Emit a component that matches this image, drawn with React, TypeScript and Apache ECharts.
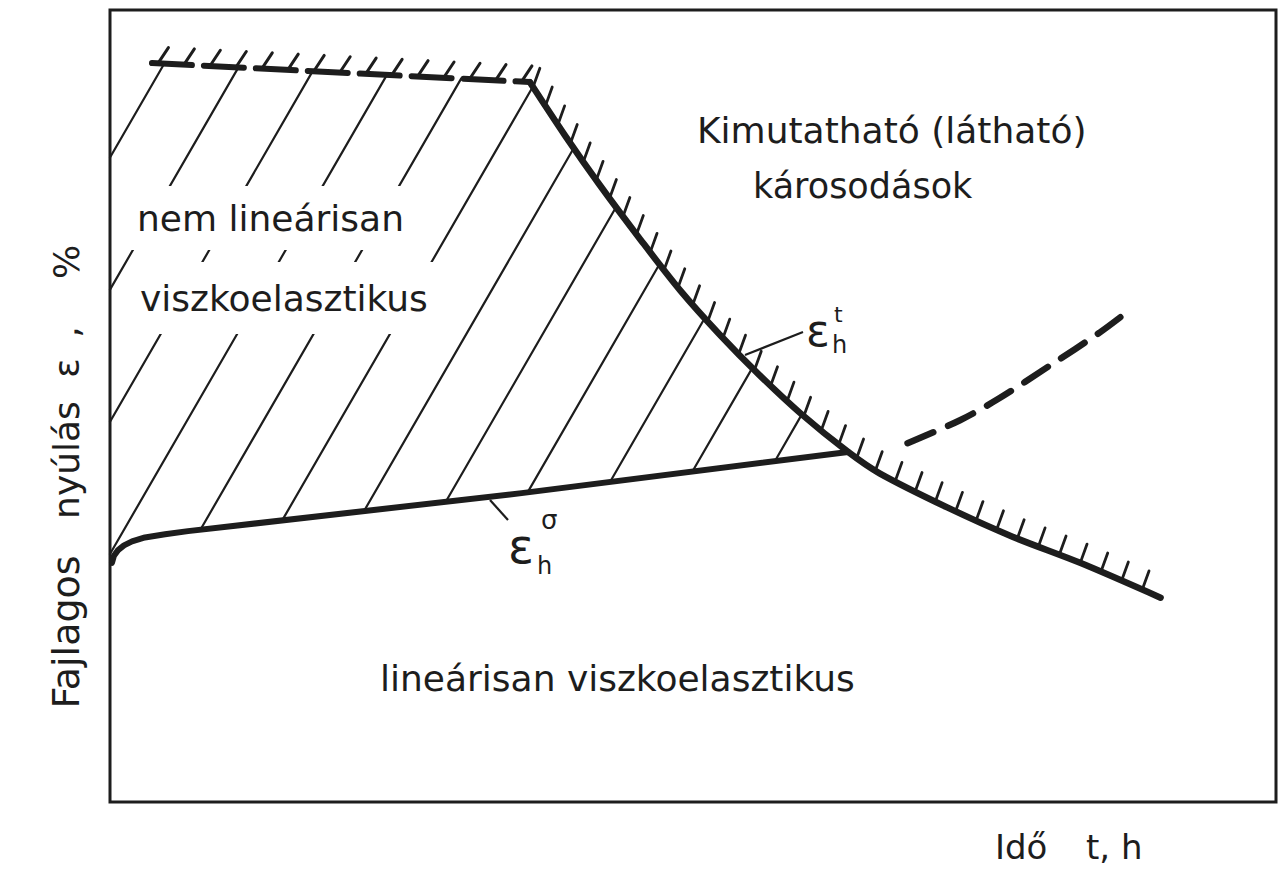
import React, { useEffect, useRef } from "react";
import * as echarts from "echarts";

// Lower boundary: strain at the end of linear viscoelastic behaviour (ε_h^σ)
const lowerT = [0.17, 0.34, 0.69, 1.2, 1.89, 3.0, 4.72, 6.69, 35.3, 63.3];
const lowerE = [30.2, 31.1, 31.8, 32.4, 32.9, 33.4, 33.8, 34.2, 39.0, 44.2];

// Upper plateau of the non-linear region
const plateauT = [3.6, 36.0];
const plateauE = [93.3, 90.9];

// Damage limit curve (ε_h^t)
const ruptureT = [36.0, 39.0, 42.0, 45.5, 48.9, 52.3, 55.7, 59.2, 63.3, 66.0, 71.8, 77.4, 83.2, 90.1];
const ruptureE = [90.9, 84.2, 77.9, 71.0, 64.6, 59.0, 53.9, 49.1, 44.2, 41.5, 37.2, 33.5, 30.2, 25.8];
const CROSSING = 8; // index where the damage curve meets the lower boundary

// Dashed continuation of the lower boundary beyond the crossing
const extensionT = [68.4, 72.9, 76.3, 80.6, 84.9, 87.7];
const extensionE = [45.3, 48.2, 51.0, 55.1, 59.3, 62.4];

const INK = "#1d1d1d";
const FONT = "'DejaVu Sans', sans-serif";

const zip = (t: number[], e: number[]) => t.map((v, i) => [v, e[i]]);

// short strokes walked along a pixel polyline
function tickMarks(pts: number[][], step: number, len: number, dx: number, dy: number, phase: number) {
  const out: number[][] = [];
  let dist = phase;
  for (let i = 0; i < pts.length - 1; i++) {
    const a = pts[i];
    const b = pts[i + 1];
    const segLen = Math.hypot(b[0] - a[0], b[1] - a[1]);
    let s = dist;
    while (s <= segLen) {
      const k = s / segLen;
      const x = a[0] + (b[0] - a[0]) * k;
      const y = a[1] + (b[1] - a[1]) * k;
      out.push([x, y, x + dx * len, y + dy * len]);
      s += step;
    }
    dist = s - segLen;
  }
  return out;
}

// parallel lines x + y / slope = c, clipped to a polygon
function hatchLines(poly: number[][], spacing: number, offset: number, slope: number) {
  const val = (p: number[]) => p[0] + p[1] / slope;
  const vals = poly.map(val);
  const cmin = Math.min(...vals);
  const cmax = Math.max(...vals);
  const segs: number[][] = [];
  for (let c = offset + Math.ceil((cmin - offset) / spacing) * spacing; c <= cmax; c += spacing) {
    const pts: number[][] = [];
    for (let i = 0; i < poly.length; i++) {
      const a = poly[i];
      const b = poly[(i + 1) % poly.length];
      const fa = val(a) - c;
      const fb = val(b) - c;
      if (fa < 0 !== fb < 0) {
        const s = fa / (fa - fb);
        pts.push([a[0] + (b[0] - a[0]) * s, a[1] + (b[1] - a[1]) * s]);
      }
    }
    pts.sort((p, q) => p[1] - q[1]);
    for (let k = 0; k + 1 < pts.length; k += 2) segs.push([pts[k][0], pts[k][1], pts[k + 1][0], pts[k + 1][1]]);
  }
  return segs;
}

const stroke = (s: number[], width: number) => ({
  type: "line",
  shape: { x1: s[0], y1: s[1], x2: s[2], y2: s[3] },
  style: { stroke: INK, lineWidth: width, lineCap: "round" },
});

function renderDecor(_params: any, api: any) {
  const px = (t: number[], e: number[]) => t.map((v, i) => api.coord([v, e[i]]));
  const plateau = px(plateauT, plateauE);
  const rupture = px(ruptureT, ruptureE);
  const lower = px(lowerT, lowerE);
  const left0 = api.coord([0, lowerE[0]]);
  const leftTop = api.coord([0, plateauE[0]]);

  const poly = [leftTop, ...plateau, ...rupture.slice(1, CROSSING + 1), ...lower.slice(0, -1).reverse(), left0];
  const children: any[] = [];

  hatchLines(poly, 76.4, 201, 1.73).forEach((s) => children.push(stroke(s, 2.2)));
  tickMarks(plateau, 26, 19, 0.55, -0.83, 6).forEach((s) => children.push(stroke(s, 3)));
  tickMarks(rupture, 22.5, 20, 0.34, -0.94, 6).forEach((s) => children.push(stroke(s, 2.8)));

  return { type: "group", children };
}

const label = (text: string, x: number, y: number, size: number, extra: any = {}) => ({
  type: "text",
  x,
  y,
  z: 100,
  style: {
    text,
    fill: INK,
    fontSize: size,
    fontFamily: FONT,
    align: "left",
    textAlign: "left",
    verticalAlign: "middle",
    textVerticalAlign: "middle",
    ...extra,
  },
});

const vertical = (text: string, x: number, y: number, size: number) => ({
  type: "text",
  x,
  y,
  rotation: Math.PI / 2,
  z: 100,
  style: {
    text,
    fill: INK,
    fontSize: size,
    fontFamily: FONT,
    align: "center",
    textAlign: "center",
    verticalAlign: "middle",
    textVerticalAlign: "middle",
  },
});

export default function App() {
  const ref = useRef<HTMLDivElement>(null);

  useEffect(() => {
    if (!ref.current) return;
    const chart = echarts.init(ref.current, undefined, { renderer: "svg" });
    const hidden = { show: false };
    chart.setOption({
      animation: false,
      backgroundColor: "#ffffff",
      grid: { left: 110, right: 5, top: 10, bottom: 82, show: true, borderColor: INK, borderWidth: 3 },
      xAxis: { type: "value", min: 0, max: 100, axisLine: hidden, axisTick: hidden, axisLabel: hidden, splitLine: hidden },
      yAxis: { type: "value", min: 0, max: 100, axisLine: hidden, axisTick: hidden, axisLabel: hidden, splitLine: hidden },
      series: [
        {
          type: "custom",
          data: [[0, 0]],
          renderItem: renderDecor,
          silent: true,
          z: 1,
        },
        {
          type: "line",
          data: zip(lowerT, lowerE),
          symbol: "none",
          lineStyle: { color: INK, width: 6, cap: "round", join: "round" },
          z: 3,
        },
        {
          type: "line",
          data: zip(ruptureT, ruptureE),
          smooth: 0.3,
          symbol: "none",
          lineStyle: { color: INK, width: 6.5, cap: "round" },
          z: 3,
        },
        {
          type: "line",
          data: zip(plateauT, plateauE),
          symbol: "none",
          lineStyle: { color: INK, width: 6, type: [40, 12], cap: "round" },
          z: 3,
        },
        {
          type: "line",
          data: zip(extensionT, extensionE),
          smooth: 0.3,
          symbol: "none",
          lineStyle: { color: INK, width: 6.5, type: [28, 16], cap: "round" },
          z: 3,
        },
      ],
      graphic: [
        label("nem lineárisan", 127, 218, 36, { backgroundColor: "#ffffff", padding: [18, 22, 10, 10] }),
        label("viszkoelasztikus", 130, 298, 36, { backgroundColor: "#ffffff", padding: [10, 20, 26, 10] }),
        label("Kimutatható (látható)", 697, 130, 36),
        label("károsodások", 753, 186, 35),
        label("lineárisan viszkoelasztikus", 380, 678, 36),
        // ε_h^t
        { type: "line", z: 100, shape: { x1: 745, y1: 355, x2: 803, y2: 332 }, style: { stroke: INK, lineWidth: 2.2 } },
        label("ε", 806, 330, 44),
        label("h", 832, 345, 24),
        label("t", 834, 314, 22),
        // ε_h^σ
        { type: "line", z: 100, shape: { x1: 490, y1: 500, x2: 508, y2: 520 }, style: { stroke: INK, lineWidth: 2.2 } },
        label("ε", 508, 546, 48),
        label("h", 537, 566, 24),
        label("σ", 541, 520, 26),
        // axis titles
        vertical("Fajlagos", 66, 632, 38),
        vertical("nyúlás", 66, 460, 36),
        vertical("ε", 66, 368, 36),
        vertical(",", 66, 332, 36),
        vertical("%", 66, 262, 36),
        label("Idő", 995, 847, 34),
        label("t, h", 1086, 847, 34),
      ],
    });
    return () => chart.dispose();
  }, []);

  return <div ref={ref} style={{ position: "fixed", left: 0, top: 0, width: 1281, height: 884 }} />;
}
